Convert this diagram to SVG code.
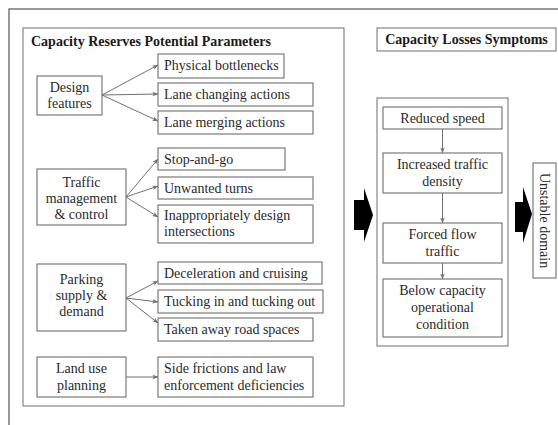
<svg xmlns="http://www.w3.org/2000/svg" width="558" height="425" viewBox="0 0 558 425">
  <style>
    .frame { fill: none; stroke: #555; stroke-width: 1.2; }
    .box { fill: #fff; stroke: #6e6e6e; stroke-width: 1.1; }
    .grp { fill: none; stroke: #7a7a7a; stroke-width: 1.1; }
    .t { font-family: "Liberation Serif", "Times New Roman", serif; font-size: 14px; fill: #2a2a2a; }
    .c { text-anchor: middle; }
    .h { font-weight: bold; font-size: 14px; fill: #1a1a1a; }
    .link { fill: none; stroke: #707070; stroke-width: 1; marker-end: url(#tip); }
    .big { fill: #000; }
  </style>
  <defs>
    <marker id="tip" viewBox="0 0 8 8" refX="7.5" refY="4" markerWidth="6" markerHeight="6" orient="auto" markerUnits="userSpaceOnUse">
      <path d="M0,1 L8,4 L0,7 L2,4 Z" fill="#707070"/>
    </marker>
  </defs>

  <rect width="558" height="425" fill="#fff"/>
  <!-- outer frame, running off the right and bottom edges -->
  <rect class="frame" x="9" y="9" width="600" height="500"/>

  <!-- left panel: capacity reserves -->
  <g id="reserves-panel">
    <rect class="grp" x="23" y="28" width="321" height="378"/>
    <text class="t h" x="31" y="46">Capacity Reserves Potential Parameters</text>
  </g>

  <g id="design-features">
    <rect class="box" x="37" y="76" width="65" height="39"/>
    <text class="t c" x="69.5" y="92">Design</text>
    <text class="t c" x="69.5" y="108">features</text>
  </g>
  <g id="physical-bottlenecks">
    <rect class="box" x="158" y="54" width="126" height="24"/>
    <text class="t" x="164" y="70">Physical bottlenecks</text>
  </g>
  <g id="lane-changing">
    <rect class="box" x="158" y="83" width="155" height="23"/>
    <text class="t" x="164" y="99">Lane changing actions</text>
  </g>
  <g id="lane-merging">
    <rect class="box" x="158" y="111" width="155" height="23"/>
    <text class="t" x="164" y="127">Lane merging  actions</text>
  </g>

  <g id="traffic-management">
    <rect class="box" x="37" y="169" width="89" height="56"/>
    <text class="t c" x="81.5" y="187">Traffic</text>
    <text class="t c" x="81.5" y="203">management</text>
    <text class="t c" x="81.5" y="219">&amp; control</text>
  </g>
  <g id="stop-and-go">
    <rect class="box" x="158" y="148" width="127" height="22"/>
    <text class="t" x="164" y="164">Stop-and-go</text>
  </g>
  <g id="unwanted-turns">
    <rect class="box" x="158" y="177" width="155" height="22"/>
    <text class="t" x="164" y="193">Unwanted turns</text>
  </g>
  <g id="inappropriate-intersections">
    <rect class="box" x="158" y="205" width="155" height="38"/>
    <text class="t" x="164" y="220">Inappropriately design</text>
    <text class="t" x="164" y="236">intersections</text>
  </g>

  <g id="parking">
    <rect class="box" x="37" y="264" width="89" height="67"/>
    <text class="t c" x="81.5" y="284">Parking</text>
    <text class="t c" x="81.5" y="300">supply &amp;</text>
    <text class="t c" x="81.5" y="316">demand</text>
  </g>
  <g id="deceleration">
    <rect class="box" x="158" y="262" width="164" height="22"/>
    <text class="t" x="164" y="278">Deceleration and cruising</text>
  </g>
  <g id="tucking">
    <rect class="box" x="158" y="290" width="165" height="23"/>
    <text class="t" x="164" y="306">Tucking in and tucking out</text>
  </g>
  <g id="taken-away">
    <rect class="box" x="158" y="318" width="155" height="23"/>
    <text class="t" x="164" y="334">Taken away road spaces</text>
  </g>

  <g id="land-use">
    <rect class="box" x="37" y="357" width="89" height="40"/>
    <text class="t c" x="81.5" y="373">Land use</text>
    <text class="t c" x="81.5" y="390">planning</text>
  </g>
  <g id="side-frictions">
    <rect class="box" x="158" y="357" width="155" height="40"/>
    <text class="t" x="164" y="373">Side  frictions and law</text>
    <text class="t" x="164" y="390">enforcement deficiencies</text>
  </g>

  <!-- right panel: capacity losses -->
  <g id="losses-title">
    <rect class="grp" x="377" y="28" width="179" height="23"/>
    <text class="t h c" x="466.5" y="44">Capacity Losses Symptoms</text>
  </g>
  <g id="losses-panel">
    <rect class="grp" x="377" y="98" width="131" height="248"/>
  </g>
  <g id="reduced-speed">
    <rect class="box" x="383" y="107" width="119" height="22"/>
    <text class="t c" x="442.5" y="123">Reduced speed</text>
  </g>
  <g id="increased-density">
    <rect class="box" x="383" y="153" width="119" height="40"/>
    <text class="t c" x="442.5" y="169">Increased traffic</text>
    <text class="t c" x="442.5" y="186">density</text>
  </g>
  <g id="forced-flow">
    <rect class="box" x="383" y="223" width="119" height="40"/>
    <text class="t c" x="442.5" y="239">Forced flow</text>
    <text class="t c" x="442.5" y="256">traffic</text>
  </g>
  <g id="below-capacity">
    <rect class="box" x="383" y="279" width="119" height="58"/>
    <text class="t c" x="442.5" y="295">Below capacity</text>
    <text class="t c" x="442.5" y="312">operational</text>
    <text class="t c" x="442.5" y="329">condition</text>
  </g>
  <g id="unstable-domain">
    <rect class="box" x="533" y="163" width="23" height="115"/>
    <text class="t c" transform="translate(540 220.5) rotate(90)" x="0" y="0">Unstable domain</text>
  </g>

  <!-- block arrows between panels -->
  <g id="block-arrows">
    <path class="big" d="M354,200 H364 V188 L373,215 L364,242 V230 H354 Z"/>
    <path class="big" d="M515,202 H523 V187 L532,214 L523,243 V232 H515 Z"/>
  </g>

  <g id="connectors">
    <path class="link" d="M102,95 L158,65"/>
    <path class="link" d="M102,95 L158,94"/>
    <path class="link" d="M102,95 L158,121"/>
    <path class="link" d="M126,197 L158,159"/>
    <path class="link" d="M126,197 L158,186"/>
    <path class="link" d="M126,197 L158,217"/>
    <path class="link" d="M126,298 L158,281"/>
    <path class="link" d="M126,298 L158,302"/>
    <path class="link" d="M126,298 L158,323"/>
    <path class="link" d="M126,377 L158,377"/>
    <path class="link" d="M442.5,129 V153"/>
    <path class="link" d="M442.5,193 V223"/>
    <path class="link" d="M442.5,263 V279"/>
  </g>
</svg>
